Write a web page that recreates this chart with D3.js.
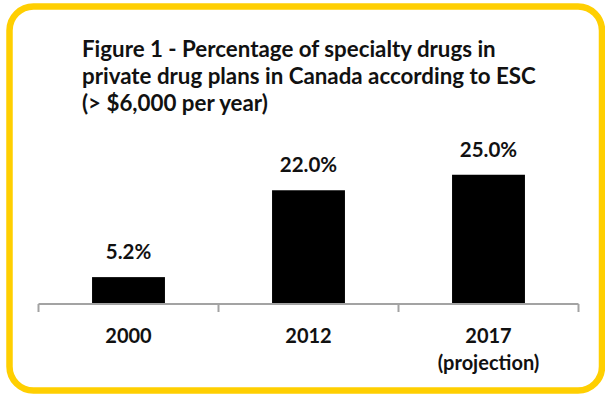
<!DOCTYPE html>
<html>
<head>
<meta charset="utf-8">
<script src="https://cdn.jsdelivr.net/npm/d3@7/dist/d3.min.js"></script>
<style>
  html, body { margin: 0; padding: 0; background: #ffffff; }
  svg { display: block; }
  text { font-family: Lato, "Open Sans", sans-serif; font-weight: bold; fill: #111; }
</style>
</head>
<body>
<svg id="chart" width="605" height="394"></svg>
<script>
const titleLines = [
  "Figure 1 - Percentage of specialty drugs in",
  "private drug plans in Canada according to ESC",
  "(> $6,000 per year)"
];
const categories = ["2000", "2012", "2017"];
const categorySubLabels = ["", "", "(projection)"];
const values = [5.2, 22.0, 25.0];
const valueLabels = ["5.2%", "22.0%", "25.0%"];

const svg = d3.select("#chart");
const W = 605, H = 394;

svg.append("rect").attr("width", W).attr("height", H).attr("fill", "#fff");

// yellow rounded frame
svg.append("rect")
  .attr("x", 9.5).attr("y", 6.5)
  .attr("width", 592.5).attr("height", 384)
  .attr("rx", 24).attr("ry", 24)
  .attr("fill", "none")
  .attr("stroke", "#FFCF01")
  .attr("stroke-width", 6.5);

// title
const title = svg.append("g");
const tLines = title.selectAll("text").data(titleLines).join("text")
  .attr("x", 82)
  .attr("y", (d, i) => 57 + i * 26.8)
  .style("font-size", "18px")
  .text(d => d);
// fit first line width to reference (~412px)
const w0 = tLines.node().getComputedTextLength();
const fs = 18 * 414 / w0;
tLines.style("font-size", fs + "px");

// scales
const x = d3.scaleBand().domain(categories).range([38.5, 578.5])
  .paddingInner(0.595).paddingOuter(0.2975);
const y = d3.scaleLinear().domain([0, 30]).range([304, 304 - 30 * 5.17]);

// bars
svg.append("g").selectAll("rect").data(values).join("rect")
  .attr("x", (d, i) => x(categories[i]))
  .attr("y", d => y(d))
  .attr("width", x.bandwidth())
  .attr("height", d => y(0) - y(d))
  .attr("fill", "#000");

// value labels
svg.append("g").selectAll("text").data(values).join("text")
  .attr("x", (d, i) => x(categories[i]) + x.bandwidth() / 2)
  .attr("y", d => y(d) - 18)
  .attr("text-anchor", "middle")
  .style("font-size", "20.5px")
  .text((d, i) => valueLabels[i]);

// axis line with boundary ticks
const axis = svg.append("g");
const [r0, r1] = x.range();
axis.append("line")
  .attr("x1", r0).attr("x2", r1)
  .attr("y1", y(0)).attr("y2", y(0))
  .attr("stroke", "#A3A3A3").attr("stroke-width", 2);
const tickPos = categories.map(c => x(c) - x.step() * x.paddingInner() / 2);
tickPos.push(r1);
tickPos[0] = r0;
axis.selectAll("line.tick").data(tickPos).join("line")
  .attr("class", "tick")
  .attr("x1", d => d).attr("x2", d => d)
  .attr("y1", y(0)).attr("y2", y(0) + 8)
  .attr("stroke", "#A3A3A3").attr("stroke-width", 2);

// category labels
const cat = svg.append("g");
cat.selectAll("text.c1").data(categories).join("text")
  .attr("class", "c1")
  .attr("x", d => x(d) + x.bandwidth() / 2)
  .attr("y", 342.5)
  .attr("text-anchor", "middle")
  .style("font-size", "20px")
  .text(d => d);
cat.selectAll("text.c2").data(categorySubLabels).join("text")
  .attr("class", "c2")
  .attr("x", (d, i) => x(categories[i]) + x.bandwidth() / 2)
  .attr("y", 370)
  .attr("text-anchor", "middle")
  .style("font-size", "20px")
  .text(d => d);
</script>
</body>
</html>
